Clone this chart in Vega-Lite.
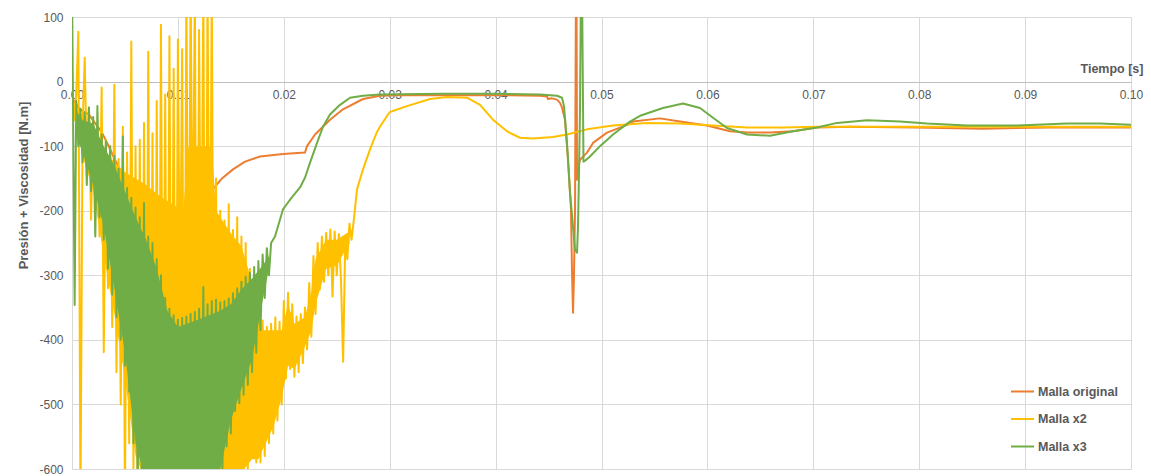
{
  "$schema": "https://vega.github.io/schema/vega-lite/v6.json",
  "width": 1059,
  "height": 452,
  "autosize": {"type": "none"},
  "padding": {"left": 72, "top": 17, "right": 20, "bottom": 7},
  "background": "white",
  "config": {"view": {"stroke": null}, "font": "Liberation Sans"},
  "datasets": {
    "original": [
      {"t": 0, "v": -25}, {"t": 0.00038, "v": -35}, {"t": 0.00076, "v": -43}, {"t": 0.0016, "v": -51},
      {"t": 0.00217, "v": -64}, {"t": 0.00283, "v": -79}, {"t": 0.00349, "v": -101}, {"t": 0.00406, "v": -121},
      {"t": 0.00453, "v": -136}, {"t": 0.00548, "v": -175}, {"t": 0.00689, "v": -240}, {"t": 0.00831, "v": -305},
      {"t": 0.00944, "v": -352}, {"t": 0.01001, "v": -372}, {"t": 0.01039, "v": -360}, {"t": 0.01076, "v": -320},
      {"t": 0.01133, "v": -271}, {"t": 0.01209, "v": -215}, {"t": 0.01303, "v": -172}, {"t": 0.01416, "v": -150},
      {"t": 0.0152, "v": -136}, {"t": 0.01634, "v": -124}, {"t": 0.01775, "v": -116}, {"t": 0.01992, "v": -112},
      {"t": 0.022, "v": -110}, {"t": 0.02219, "v": -100}, {"t": 0.02295, "v": -82}, {"t": 0.02436, "v": -59},
      {"t": 0.02559, "v": -43}, {"t": 0.02748, "v": -27}, {"t": 0.02908, "v": -22}, {"t": 0.03097, "v": -21},
      {"t": 0.04, "v": -21}, {"t": 0.04419, "v": -22}, {"t": 0.04485, "v": -23}, {"t": 0.04495, "v": -27},
      {"t": 0.04533, "v": -26}, {"t": 0.0458, "v": -28}, {"t": 0.04608, "v": -33}, {"t": 0.04627, "v": -40},
      {"t": 0.04655, "v": -59}, {"t": 0.04684, "v": -121}, {"t": 0.04712, "v": -198}, {"t": 0.04721, "v": -291},
      {"t": 0.04731, "v": -358}, {"t": 0.0474, "v": -302}, {"t": 0.0475, "v": -198}, {"t": 0.04754, "v": -43},
      {"t": 0.04759, "v": 150}, {"t": 0.04764, "v": 150}, {"t": 0.04769, "v": -152}, {"t": 0.04778, "v": -136},
      {"t": 0.04797, "v": -121}, {"t": 0.04863, "v": -110}, {"t": 0.0492, "v": -95}, {"t": 0.05052, "v": -79},
      {"t": 0.05241, "v": -67}, {"t": 0.05297, "v": -62}, {"t": 0.05552, "v": -57}, {"t": 0.05741, "v": -62},
      {"t": 0.05996, "v": -68}, {"t": 0.06213, "v": -77}, {"t": 0.06374, "v": -79}, {"t": 0.06591, "v": -79},
      {"t": 0.06808, "v": -77}, {"t": 0.07035, "v": -71}, {"t": 0.07347, "v": -70}, {"t": 0.07979, "v": -71},
      {"t": 0.08602, "v": -73}, {"t": 0.09235, "v": -71}, {"t": 0.1, "v": -71}
    ],
    "x2band": [
      {"t": 0.0009, "v": -60, "v2": -110}, {"t": 0.002, "v": -75, "v2": -170}, {"t": 0.003, "v": -105, "v2": -270},
      {"t": 0.004, "v": -125, "v2": -360}, {"t": 0.005, "v": -140, "v2": -460}, {"t": 0.006, "v": -150, "v2": -580},
      {"t": 0.007, "v": -160, "v2": -620}, {"t": 0.0085, "v": -180, "v2": -620}, {"t": 0.0105, "v": -200, "v2": -620},
      {"t": 0.011, "v": -100, "v2": -620}, {"t": 0.0132, "v": -100, "v2": -620}, {"t": 0.0136, "v": -200, "v2": -620},
      {"t": 0.015, "v": -235, "v2": -620}, {"t": 0.016, "v": -255, "v2": -605}, {"t": 0.017, "v": -310, "v2": -585},
      {"t": 0.0176, "v": -355, "v2": -585}, {"t": 0.018, "v": -385, "v2": -570}, {"t": 0.019, "v": -385, "v2": -535},
      {"t": 0.0198, "v": -385, "v2": -490}, {"t": 0.0204, "v": -345, "v2": -440}, {"t": 0.021, "v": -375, "v2": -445},
      {"t": 0.022, "v": -365, "v2": -410}, {"t": 0.0226, "v": -325, "v2": -385}, {"t": 0.023, "v": -275, "v2": -345},
      {"t": 0.024, "v": -245, "v2": -290}, {"t": 0.025, "v": -245, "v2": -285}, {"t": 0.0262, "v": -232, "v2": -250}
    ],
    "x2": [
      {"t": 0, "v": 8}, {"t": 0.0002, "v": -60}, {"t": 0.0004, "v": -20}, {"t": 0.0006, "v": 77},
      {"t": 0.0008, "v": -650}, {"t": 0.001, "v": -70}, {"t": 0.0012, "v": 37}, {"t": 0.0014, "v": -130},
      {"t": 0.0016, "v": -40}, {"t": 0.0018, "v": -214}, {"t": 0.002, "v": -60}, {"t": 0.0022, "v": -170},
      {"t": 0.0024, "v": -70}, {"t": 0.0026, "v": -240}, {"t": 0.0028, "v": -9}, {"t": 0.003, "v": -419},
      {"t": 0.0032, "v": -90}, {"t": 0.0034, "v": -320}, {"t": 0.0036, "v": -100}, {"t": 0.0038, "v": -380},
      {"t": 0.004, "v": -5}, {"t": 0.0042, "v": -450}, {"t": 0.0044, "v": -120}, {"t": 0.0046, "v": -500},
      {"t": 0.0048, "v": -70}, {"t": 0.005, "v": -650}, {"t": 0.0052, "v": -110}, {"t": 0.0054, "v": -560},
      {"t": 0.0056, "v": 62}, {"t": 0.0058, "v": -600}, {"t": 0.006, "v": -100}, {"t": 0.0062, "v": -640},
      {"t": 0.0064, "v": -90}, {"t": 0.0066, "v": -650}, {"t": 0.0068, "v": -64}, {"t": 0.007, "v": -650},
      {"t": 0.0072, "v": 46}, {"t": 0.0074, "v": -650}, {"t": 0.0076, "v": -80}, {"t": 0.0078, "v": -650},
      {"t": 0.008, "v": -30}, {"t": 0.0082, "v": -650}, {"t": 0.0084, "v": 88}, {"t": 0.0086, "v": -600},
      {"t": 0.0088, "v": -20}, {"t": 0.009, "v": -650}, {"t": 0.0092, "v": 70}, {"t": 0.0094, "v": -600},
      {"t": 0.0096, "v": 20}, {"t": 0.0098, "v": -650}, {"t": 0.01, "v": 65}, {"t": 0.0102, "v": -380},
      {"t": 0.0104, "v": 50}, {"t": 0.0106, "v": -650}, {"t": 0.0108, "v": 150}, {"t": 0.011, "v": -500},
      {"t": 0.0112, "v": 150}, {"t": 0.0114, "v": -300}, {"t": 0.0116, "v": 150}, {"t": 0.0118, "v": -650},
      {"t": 0.012, "v": 80}, {"t": 0.0122, "v": -400}, {"t": 0.0124, "v": 150}, {"t": 0.0126, "v": -650},
      {"t": 0.0128, "v": 150}, {"t": 0.013, "v": -450}, {"t": 0.0132, "v": 150}, {"t": 0.0134, "v": -650},
      {"t": 0.0136, "v": -150}, {"t": 0.0138, "v": -650}, {"t": 0.014, "v": -200}, {"t": 0.0142, "v": -650},
      {"t": 0.0144, "v": -215}, {"t": 0.0146, "v": -650}, {"t": 0.0148, "v": -190}, {"t": 0.015, "v": -640},
      {"t": 0.0152, "v": -230}, {"t": 0.0154, "v": -620}, {"t": 0.0156, "v": -210}, {"t": 0.0158, "v": -650},
      {"t": 0.016, "v": -240}, {"t": 0.0162, "v": -600}, {"t": 0.0164, "v": -250}, {"t": 0.0166, "v": -610},
      {"t": 0.0168, "v": -290}, {"t": 0.017, "v": -580}, {"t": 0.0172, "v": -300}, {"t": 0.0174, "v": -590},
      {"t": 0.0176, "v": -345}, {"t": 0.0178, "v": -590}, {"t": 0.018, "v": -370}, {"t": 0.0182, "v": -580},
      {"t": 0.0184, "v": -380}, {"t": 0.0186, "v": -560}, {"t": 0.0188, "v": -375}, {"t": 0.019, "v": -545},
      {"t": 0.0192, "v": -365}, {"t": 0.0194, "v": -525}, {"t": 0.0196, "v": -372}, {"t": 0.0198, "v": -500},
      {"t": 0.02, "v": -340}, {"t": 0.0202, "v": -460}, {"t": 0.0204, "v": -327}, {"t": 0.0206, "v": -445},
      {"t": 0.0208, "v": -345}, {"t": 0.021, "v": -457}, {"t": 0.0212, "v": -364}, {"t": 0.0214, "v": -450},
      {"t": 0.0216, "v": -360}, {"t": 0.0218, "v": -436}, {"t": 0.022, "v": -350}, {"t": 0.0222, "v": -415},
      {"t": 0.0224, "v": -312}, {"t": 0.0226, "v": -395}, {"t": 0.0228, "v": -270}, {"t": 0.023, "v": -360},
      {"t": 0.0232, "v": -250}, {"t": 0.0234, "v": -322}, {"t": 0.0236, "v": -240}, {"t": 0.0238, "v": -310},
      {"t": 0.024, "v": -234}, {"t": 0.0242, "v": -300}, {"t": 0.0244, "v": -229}, {"t": 0.0246, "v": -333},
      {"t": 0.0248, "v": -232}, {"t": 0.025, "v": -300}, {"t": 0.0252, "v": -236}, {"t": 0.0254, "v": -307},
      {"t": 0.0256, "v": -434}, {"t": 0.0258, "v": -250}, {"t": 0.026, "v": -275}, {"t": 0.0262, "v": -220},
      {"t": 0.0264, "v": -245}, {"t": 0.02664, "v": -210}, {"t": 0.02691, "v": -167}, {"t": 0.02748, "v": -136},
      {"t": 0.02814, "v": -105}, {"t": 0.0288, "v": -78}, {"t": 0.02908, "v": -70}, {"t": 0.02984, "v": -51},
      {"t": 0.03003, "v": -47}, {"t": 0.03022, "v": -46}, {"t": 0.03163, "v": -38}, {"t": 0.03381, "v": -27},
      {"t": 0.03541, "v": -24}, {"t": 0.0373, "v": -25}, {"t": 0.03853, "v": -36}, {"t": 0.03975, "v": -59},
      {"t": 0.04108, "v": -77}, {"t": 0.0423, "v": -87}, {"t": 0.04353, "v": -88}, {"t": 0.04542, "v": -86},
      {"t": 0.04674, "v": -82}, {"t": 0.04863, "v": -74}, {"t": 0.05109, "v": -68}, {"t": 0.0543, "v": -64},
      {"t": 0.05741, "v": -65}, {"t": 0.06053, "v": -68}, {"t": 0.06374, "v": -71}, {"t": 0.06714, "v": -71},
      {"t": 0.07035, "v": -70}, {"t": 0.07658, "v": -70}, {"t": 0.08291, "v": -70}, {"t": 0.08924, "v": -70},
      {"t": 0.09547, "v": -70}, {"t": 0.1, "v": -70}
    ],
    "x3band": [
      {"t": 0.0004, "v": -45, "v2": -85}, {"t": 0.001, "v": -60, "v2": -110}, {"t": 0.002, "v": -65, "v2": -160},
      {"t": 0.003, "v": -100, "v2": -225}, {"t": 0.004, "v": -130, "v2": -320}, {"t": 0.005, "v": -170, "v2": -420},
      {"t": 0.006, "v": -210, "v2": -560}, {"t": 0.007, "v": -245, "v2": -620}, {"t": 0.008, "v": -290, "v2": -620},
      {"t": 0.009, "v": -355, "v2": -620}, {"t": 0.01, "v": -380, "v2": -620}, {"t": 0.012, "v": -368, "v2": -620},
      {"t": 0.014, "v": -355, "v2": -600}, {"t": 0.015, "v": -345, "v2": -525}, {"t": 0.016, "v": -322, "v2": -475},
      {"t": 0.017, "v": -305, "v2": -430}, {"t": 0.018, "v": -285, "v2": -340}, {"t": 0.0186, "v": -270, "v2": -290}
    ],
    "x3": [
      {"t": 0, "v": 150}, {"t": 0.00025, "v": -346}, {"t": 0.0004, "v": -30}, {"t": 0.0006, "v": -100},
      {"t": 0.0008, "v": -42}, {"t": 0.001, "v": -125}, {"t": 0.0012, "v": -48}, {"t": 0.0014, "v": -160},
      {"t": 0.0016, "v": -40}, {"t": 0.0018, "v": -170}, {"t": 0.002, "v": -55}, {"t": 0.0022, "v": -240},
      {"t": 0.0024, "v": -38}, {"t": 0.0026, "v": -210}, {"t": 0.0028, "v": -82}, {"t": 0.003, "v": -245},
      {"t": 0.0032, "v": -92}, {"t": 0.0034, "v": -290}, {"t": 0.0036, "v": -100}, {"t": 0.0038, "v": -330},
      {"t": 0.004, "v": -115}, {"t": 0.0042, "v": -365}, {"t": 0.0044, "v": -135}, {"t": 0.0046, "v": -400},
      {"t": 0.0048, "v": -85}, {"t": 0.005, "v": -440}, {"t": 0.0052, "v": -165}, {"t": 0.0054, "v": -480},
      {"t": 0.0056, "v": -180}, {"t": 0.0058, "v": -560}, {"t": 0.006, "v": -195}, {"t": 0.0062, "v": -640},
      {"t": 0.0064, "v": -210}, {"t": 0.0066, "v": -650}, {"t": 0.0068, "v": -188}, {"t": 0.007, "v": -650},
      {"t": 0.0072, "v": -240}, {"t": 0.0074, "v": -650}, {"t": 0.0076, "v": -250}, {"t": 0.0078, "v": -650},
      {"t": 0.008, "v": -275}, {"t": 0.0082, "v": -650}, {"t": 0.0084, "v": -300}, {"t": 0.0086, "v": -650},
      {"t": 0.0088, "v": -335}, {"t": 0.009, "v": -650}, {"t": 0.0092, "v": -352}, {"t": 0.0094, "v": -650},
      {"t": 0.0096, "v": -362}, {"t": 0.0098, "v": -650}, {"t": 0.01, "v": -369}, {"t": 0.0102, "v": -650},
      {"t": 0.0104, "v": -366}, {"t": 0.0106, "v": -650}, {"t": 0.0108, "v": -364}, {"t": 0.011, "v": -650},
      {"t": 0.0112, "v": -360}, {"t": 0.0114, "v": -650}, {"t": 0.0116, "v": -357}, {"t": 0.0118, "v": -650},
      {"t": 0.012, "v": -352}, {"t": 0.0122, "v": -650}, {"t": 0.0124, "v": -318}, {"t": 0.0126, "v": -650},
      {"t": 0.0128, "v": -345}, {"t": 0.013, "v": -650}, {"t": 0.0132, "v": -340}, {"t": 0.0134, "v": -650},
      {"t": 0.0136, "v": -338}, {"t": 0.0138, "v": -650}, {"t": 0.014, "v": -342}, {"t": 0.0142, "v": -610},
      {"t": 0.0144, "v": -340}, {"t": 0.0146, "v": -565}, {"t": 0.0148, "v": -336}, {"t": 0.015, "v": -545},
      {"t": 0.0152, "v": -328}, {"t": 0.0154, "v": -510}, {"t": 0.0156, "v": -320}, {"t": 0.0158, "v": -498},
      {"t": 0.016, "v": -310}, {"t": 0.0162, "v": -485}, {"t": 0.0164, "v": -302}, {"t": 0.0166, "v": -470},
      {"t": 0.0168, "v": -296}, {"t": 0.017, "v": -450}, {"t": 0.0172, "v": -287}, {"t": 0.0174, "v": -420},
      {"t": 0.0176, "v": -278}, {"t": 0.0178, "v": -385}, {"t": 0.018, "v": -268}, {"t": 0.0182, "v": -335},
      {"t": 0.0184, "v": -258}, {"t": 0.0186, "v": -300}, {"t": 0.0188, "v": -250}, {"t": 0.01917, "v": -240},
      {"t": 0.01992, "v": -198}, {"t": 0.02059, "v": -183}, {"t": 0.02153, "v": -164}, {"t": 0.022, "v": -149},
      {"t": 0.02247, "v": -126}, {"t": 0.02314, "v": -95}, {"t": 0.0237, "v": -70}, {"t": 0.02436, "v": -51},
      {"t": 0.02531, "v": -36}, {"t": 0.02625, "v": -25}, {"t": 0.02748, "v": -22}, {"t": 0.02908, "v": -20},
      {"t": 0.035, "v": -19}, {"t": 0.04, "v": -19}, {"t": 0.04419, "v": -20}, {"t": 0.0458, "v": -22},
      {"t": 0.04627, "v": -25}, {"t": 0.04646, "v": -38}, {"t": 0.04674, "v": -95}, {"t": 0.04703, "v": -172},
      {"t": 0.04731, "v": -225}, {"t": 0.0475, "v": -260}, {"t": 0.04769, "v": -265}, {"t": 0.04778, "v": -225},
      {"t": 0.04787, "v": -147}, {"t": 0.04797, "v": -43}, {"t": 0.04806, "v": 150}, {"t": 0.04816, "v": 150},
      {"t": 0.0483, "v": -124}, {"t": 0.0485, "v": -122}, {"t": 0.04891, "v": -116}, {"t": 0.04986, "v": -100},
      {"t": 0.05109, "v": -82}, {"t": 0.05269, "v": -62}, {"t": 0.05364, "v": -53}, {"t": 0.05581, "v": -41},
      {"t": 0.0577, "v": -34}, {"t": 0.0593, "v": -41}, {"t": 0.06053, "v": -56}, {"t": 0.06185, "v": -72},
      {"t": 0.06374, "v": -82}, {"t": 0.06591, "v": -84}, {"t": 0.06808, "v": -77}, {"t": 0.07035, "v": -71},
      {"t": 0.07224, "v": -64}, {"t": 0.07507, "v": -60}, {"t": 0.07819, "v": -62}, {"t": 0.08074, "v": -65},
      {"t": 0.08451, "v": -68}, {"t": 0.08924, "v": -68}, {"t": 0.09396, "v": -65}, {"t": 0.09707, "v": -65},
      {"t": 0.1, "v": -67}
    ]
  },
  "encoding": {
    "x": {
      "field": "t",
      "type": "quantitative",
      "scale": {"domain": [0, 0.1], "nice": false},
      "axis": {
        "orient": "bottom",
        "offset": -387,
        "values": [0, 0.01, 0.02, 0.03, 0.04, 0.05, 0.06, 0.07, 0.08, 0.09, 0.1],
        "format": ".2f",
        "labelFlush": false,
        "labelOverlap": false,
        "domainColor": "#bfbfbf",
        "ticks": false,
        "tickSize": 0,
        "labelPadding": 7,
        "labelFontSize": 12,
        "labelColor": "#595959",
        "grid": true,
        "gridColor": "#d9d9d9",
        "title": "Tiempo [s]",
        "titleFontSize": 12.5,
        "titleFontWeight": "bold",
        "titleColor": "#595959",
        "titleX": 1071,
        "titleY": -14,
        "titleAlign": "right",
        "titleBaseline": "middle"
      }
    },
    "y": {
      "field": "v",
      "type": "quantitative",
      "scale": {"domain": [-600, 100], "nice": false},
      "axis": {
        "values": [-600, -500, -400, -300, -200, -100, 0, 100],
        "labelExpr": "datum.value < 0 ? '-' + abs(datum.value) : '' + datum.value",
        "domain": false,
        "ticks": false,
        "labelPadding": 9,
        "labelFontSize": 12,
        "labelColor": "#595959",
        "grid": true,
        "gridColor": "#d9d9d9",
        "title": "Presión + Viscosidad [N.m]",
        "titleFontSize": 13,
        "titleFontWeight": "bold",
        "titleColor": "#595959",
        "titleX": -49,
        "titleY": 168,
        "titleAngle": -90,
        "titleAlign": "center",
        "titleBaseline": "middle"
      }
    }
  },
  "layer": [
    {
      "data": {"name": "original"},
      "mark": {"type": "line", "clip": true, "strokeWidth": 2, "strokeJoin": "round"},
      "encoding": {
        "color": {
          "datum": "Malla original",
          "type": "nominal",
          "scale": {"domain": ["Malla original", "Malla x2", "Malla x3"], "range": ["#ED7D31", "#FFC000", "#70AD47"]},
          "legend": {
            "orient": "none",
            "legendX": 938,
            "legendY": 362,
            "title": null,
            "padding": 0,
            "symbolType": "stroke",
            "symbolSize": 529,
            "symbolStrokeWidth": 2,
            "labelFontSize": 12.5,
            "labelFontWeight": "bold",
            "labelColor": "#595959",
            "rowPadding": 8.5,
            "labelOffset": 3
          }
        }
      }
    },
    {
      "data": {"name": "x2band"},
      "mark": {"type": "area", "clip": true, "color": "#FFC000", "opacity": 1},
      "encoding": {"y2": {"field": "v2"}}
    },
    {
      "data": {"name": "x2"},
      "mark": {"type": "line", "clip": true, "strokeWidth": 2, "strokeJoin": "round"},
      "encoding": {"color": {"datum": "Malla x2", "type": "nominal"}}
    },
    {
      "data": {"name": "x3band"},
      "mark": {"type": "area", "clip": true, "color": "#70AD47", "opacity": 1},
      "encoding": {"y2": {"field": "v2"}}
    },
    {
      "data": {"name": "x3"},
      "mark": {"type": "line", "clip": true, "strokeWidth": 2, "strokeJoin": "round"},
      "encoding": {"color": {"datum": "Malla x3", "type": "nominal"}}
    }
  ]
}
